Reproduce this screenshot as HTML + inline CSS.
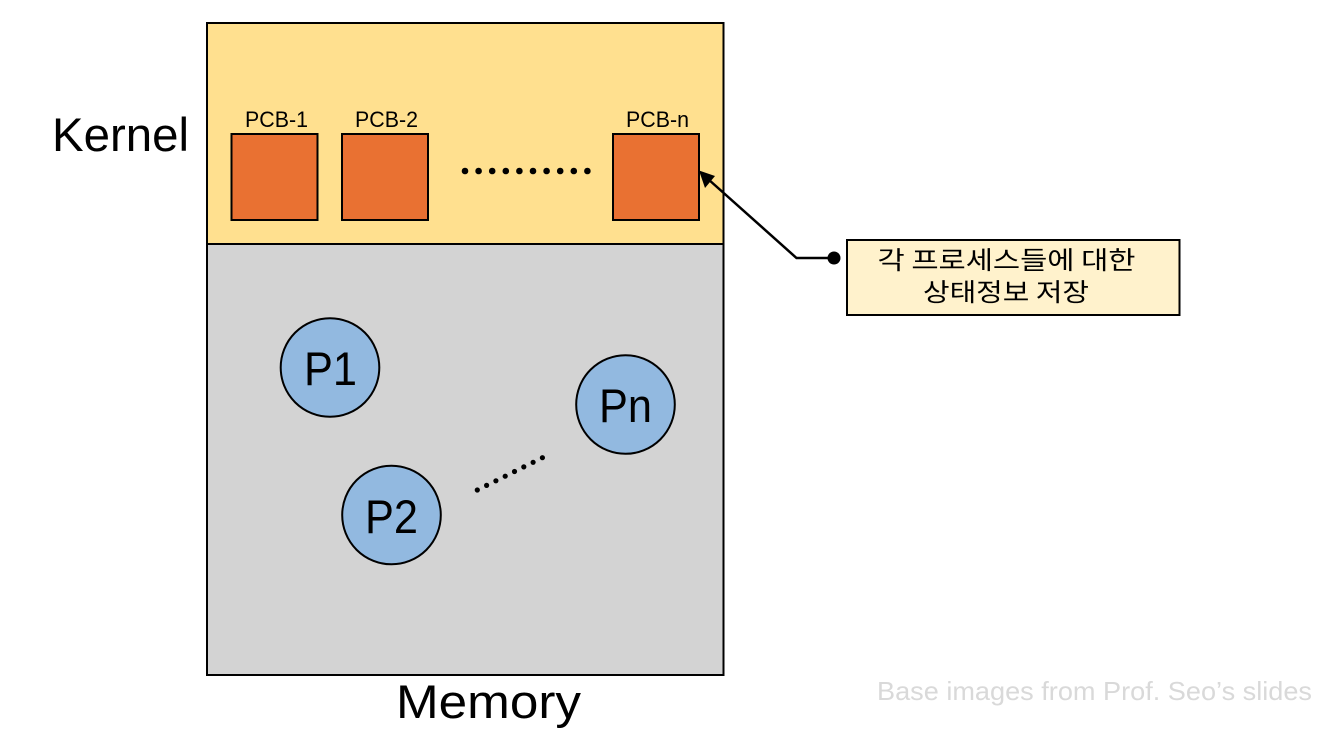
<!DOCTYPE html>
<html>
<head>
<meta charset="utf-8">
<style>
html,body{margin:0;padding:0;background:#fff;width:1326px;height:732px;overflow:hidden}
svg{display:block}
text{font-family:"Liberation Sans","Noto Sans CJK KR",sans-serif;fill:#000}
.k{font-family:"Noto Sans CJK KR","NanumGothic",sans-serif}
</style>
</head>
<body>
<svg width="1326" height="732" viewBox="0 0 1326 732" xmlns="http://www.w3.org/2000/svg">
  <rect x="207" y="23" width="516.500" height="221" fill="#ffe08f" stroke="#000" stroke-width="2"/>
  <rect x="207" y="244" width="516.500" height="431" fill="#d3d3d3" stroke="#000" stroke-width="2"/>

  <rect x="231.500" y="134" width="86" height="86" fill="#e97132" stroke="#000" stroke-width="2"/>
  <rect x="342" y="134" width="86" height="86" fill="#e97132" stroke="#000" stroke-width="2"/>
  <rect x="613" y="134" width="86" height="86" fill="#e97132" stroke="#000" stroke-width="2"/>

  <text x="245" y="127" font-size="22" textLength="63" lengthAdjust="spacingAndGlyphs">PCB-1</text>
  <text x="355" y="127" font-size="22" textLength="63" lengthAdjust="spacingAndGlyphs">PCB-2</text>
  <text x="626" y="127" font-size="22" textLength="63" lengthAdjust="spacingAndGlyphs">PCB-n</text>

  <g fill="#000">
    <circle cx="465" cy="171" r="3.300"/><circle cx="478.600" cy="171" r="3.300"/><circle cx="492.200" cy="171" r="3.300"/>
    <circle cx="505.800" cy="171" r="3.300"/><circle cx="519.400" cy="171" r="3.300"/><circle cx="533" cy="171" r="3.300"/>
    <circle cx="546.600" cy="171" r="3.300"/><circle cx="560.200" cy="171" r="3.300"/><circle cx="573.800" cy="171" r="3.300"/>
    <circle cx="587.400" cy="171" r="3.300"/>
  </g>

  <g fill="#000">
    <circle cx="477.300" cy="490" r="2.600"/><circle cx="486.600" cy="485.400" r="2.600"/>
    <circle cx="495.900" cy="480.800" r="2.600"/><circle cx="505.200" cy="476.200" r="2.600"/>
    <circle cx="514.500" cy="471.500" r="2.600"/><circle cx="523.800" cy="466.900" r="2.600"/>
    <circle cx="533.100" cy="462.300" r="2.600"/><circle cx="542.400" cy="457.700" r="2.600"/>
  </g>

  <circle cx="330" cy="367.500" r="49.300" fill="#92b9e0" stroke="#000" stroke-width="2"/>
  <circle cx="391.500" cy="515" r="49.300" fill="#92b9e0" stroke="#000" stroke-width="2"/>
  <circle cx="625.500" cy="404.500" r="49.300" fill="#92b9e0" stroke="#000" stroke-width="2"/>
  <text x="304" y="385" font-size="47" textLength="53" lengthAdjust="spacingAndGlyphs">P1</text>
  <text x="365" y="533" font-size="47" textLength="53" lengthAdjust="spacingAndGlyphs">P2</text>
  <text x="599" y="422" font-size="47" textLength="53" lengthAdjust="spacingAndGlyphs">Pn</text>

  <text x="52" y="151" font-size="47" textLength="137" lengthAdjust="spacingAndGlyphs">Kernel</text>
  <text x="396" y="718" font-size="47" textLength="185" lengthAdjust="spacingAndGlyphs">Memory</text>
  <text x="877" y="700" font-size="26" style="fill:#d9d9d9" textLength="435" lengthAdjust="spacingAndGlyphs">Base images from Prof. Seo’s slides</text>

  <rect x="847" y="240" width="332.500" height="75" fill="#fff2cc" stroke="#000" stroke-width="2"/>
  <text class="k" x="1006.500" y="269" font-size="25" text-anchor="middle" textLength="258" lengthAdjust="spacingAndGlyphs">각 프로세스들에 대한</text>
  <text class="k" x="1006" y="301" font-size="25" text-anchor="middle" textLength="166" lengthAdjust="spacingAndGlyphs">상태정보 저장</text>

  <polyline points="835,258 796.500,258 708,179" fill="none" stroke="#000" stroke-width="2.500"/>
  <polygon points="699,170.500 715,176 705,188" fill="#000"/>
  <circle cx="834" cy="258" r="6.500" fill="#000"/>
</svg>
</body>
</html>
